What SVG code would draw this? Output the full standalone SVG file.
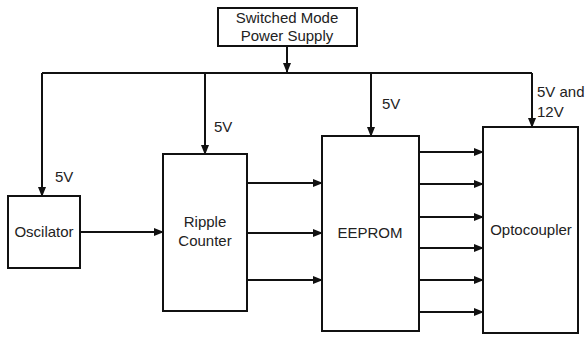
<svg xmlns="http://www.w3.org/2000/svg" width="587" height="339" viewBox="0 0 587 339">
<style>
.box{fill:#fff;stroke:#111;stroke-width:2}
.ln{fill:none;stroke:#111;stroke-width:2}
.t{font-family:"Liberation Sans",Arial,sans-serif;font-size:15px;fill:#222}
.c{text-anchor:middle}
</style>
<defs>
<marker id="ah" markerWidth="10" markerHeight="8" refX="9" refY="4" orient="auto" markerUnits="userSpaceOnUse">
<path d="M0,0 L10,4 L0,8 Z" fill="#111"/>
</marker>
</defs>
<rect width="587" height="339" fill="#fff"/>
<g id="connectors">
<path class="ln" d="M287,46 V72" marker-end="url(#ah)"/>
<path class="ln" d="M42,73 H532"/>
<path class="ln" d="M42,73 V196" marker-end="url(#ah)"/>
<path class="ln" d="M205,73 V154" marker-end="url(#ah)"/>
<path class="ln" d="M371,73 V136" marker-end="url(#ah)"/>
<path class="ln" d="M532,73 V127" marker-end="url(#ah)"/>
<path class="ln" d="M80,232 H163" marker-end="url(#ah)"/>
<path class="ln" d="M247,183 H322" marker-end="url(#ah)"/>
<path class="ln" d="M247,233 H322" marker-end="url(#ah)"/>
<path class="ln" d="M247,280 H322" marker-end="url(#ah)"/>
<path class="ln" d="M419,152 H483" marker-end="url(#ah)"/>
<path class="ln" d="M419,184 H483" marker-end="url(#ah)"/>
<path class="ln" d="M419,217 H483" marker-end="url(#ah)"/>
<path class="ln" d="M419,248 H483" marker-end="url(#ah)"/>
<path class="ln" d="M419,280 H483" marker-end="url(#ah)"/>
<path class="ln" d="M419,312 H483" marker-end="url(#ah)"/>
<text class="t" x="55" y="182">5V</text>
<text class="t" x="214" y="132">5V</text>
<text class="t" x="382" y="109">5V</text>
<text class="t" x="537" y="97">5V and</text>
<text class="t" x="537" y="117">12V</text>
</g>
<g id="smps">
<rect class="box" x="218" y="8" width="139" height="38"/>
<text class="t c" x="287" y="23">Switched Mode</text>
<text class="t c" x="287" y="41">Power Supply</text>
</g>
<g id="oscillator">
<rect class="box" x="8" y="196" width="72" height="72"/>
<text class="t c" x="44" y="237">Oscilator</text>
</g>
<g id="ripple">
<rect class="box" x="163" y="154" width="84" height="157"/>
<text class="t c" x="205" y="227">Ripple</text>
<text class="t c" x="205" y="246">Counter</text>
</g>
<g id="eeprom">
<rect class="box" x="322" y="136" width="97" height="195"/>
<text class="t c" x="370" y="238">EEPROM</text>
</g>
<g id="optocoupler">
<rect class="box" x="483" y="127" width="95" height="206"/>
<text class="t c" x="531" y="235">Optocoupler</text>
</g>
</svg>
